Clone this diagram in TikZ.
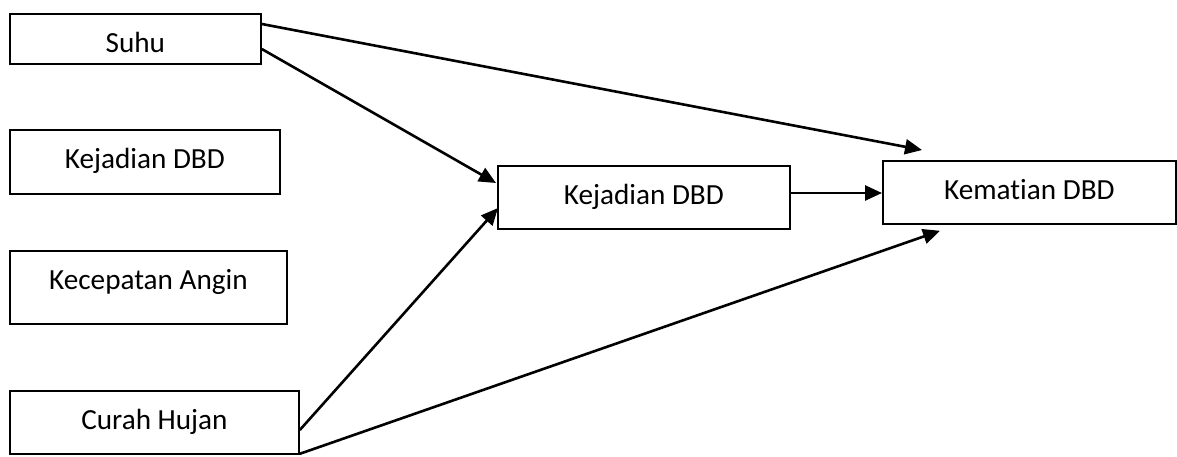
\documentclass[tikz,border=0pt]{standalone}
\usepackage{fontspec}
\setmainfont{Carlito}[Ligatures=NoCommon]
\usetikzlibrary{arrows.meta,calc}
\begin{document}
\begin{tikzpicture}[x=1pt,y=-1pt,
  box/.style={draw,line width=1.8pt,inner sep=0pt,anchor=north west,align=center,
    font=\fontsize{29.2}{34}\selectfont,text height=38.5pt},
  arr/.style={line width=2.6pt,-{Triangle[length=17pt,width=15pt]}}]
\useasboundingbox (0,0) rectangle (1177,457);
\node[box,minimum width=251pt,minimum height=50pt,text depth=11.5pt] (suhu) at (9,13) {Suhu};
\node[box,minimum width=270pt,minimum height=64pt,text depth=25.5pt] (kejl) at (9,129) {Kejadian DBD};
\node[box,minimum width=277pt,minimum height=73pt,text depth=34.5pt] (angin) at (9,250) {Kecepatan Angin};
\node[box,minimum width=289pt,minimum height=63pt,text depth=24.5pt] (curah) at (9,390) {Curah Hujan};
\node[box,minimum width=292pt,minimum height=63pt,text depth=24.5pt] (mid) at (497,165) {Kejadian DBD};
\node[box,minimum width=293pt,minimum height=63pt,text depth=24.5pt] (kem) at (882,160) {Kematian DBD};
\coordinate (s1) at ($(suhu.north east)+(0,11)$);
\coordinate (s2) at ($(suhu.north east)+(0,36)$);
\coordinate (c1) at ($(curah.north east)+(0,40)$);
\coordinate (c2) at ($(curah.south east)+(0,-1)$);
\coordinate (kt) at ($(kem.north west)+(40,-10)$);
\coordinate (kb) at ($(kem.south west)+(58,6)$);
\coordinate (m1) at ($(mid.north west)+(-1,18)$);
\coordinate (m2) at ($(mid.north west)+(1,43)$);
\draw[arr] (s1) -- (kt);
\draw[arr] (s2) -- (m1);
\draw[arr] (c1) -- (m2);
\draw[arr] (c2) -- (kb);
\draw[arr] ($(mid.north east)+(0,28)$) -- ($(kem.north west)+(0,33)$);
\end{tikzpicture}
\end{document}
